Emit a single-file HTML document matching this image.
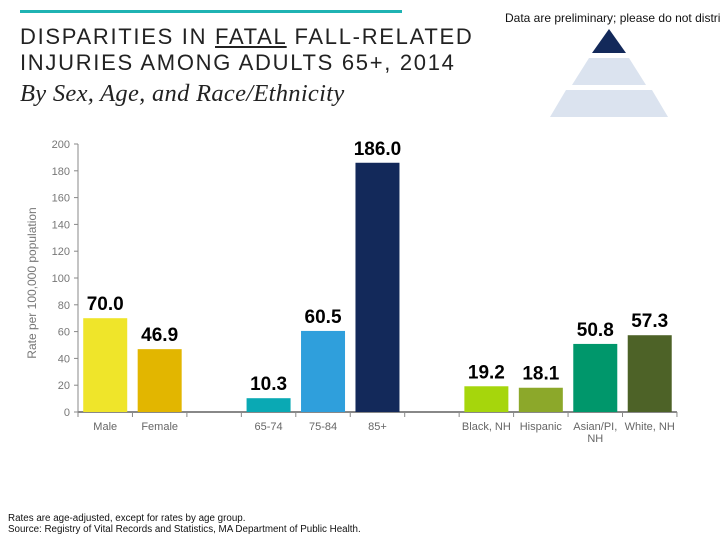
<!DOCTYPE html>
<html><head><meta charset="utf-8"><style>
body{margin:0;width:720px;height:540px;background:#fff;overflow:hidden;font-family:"Liberation Sans",sans-serif;position:relative}
.t{position:absolute}
</style></head><body>
<div class="t" style="left:20px;top:10px;width:382px;height:3px;background:#1fb3b3"></div>
<div class="t" style="left:20px;top:24px;font-size:22px;line-height:26px;color:#222;letter-spacing:1.7px;white-space:nowrap">DISPARITIES IN <u>FATAL</u> FALL-RELATED<br>INJURIES AMONG ADULTS 65+, 2014</div>
<div class="t" style="left:20px;top:80px;font-family:'Liberation Serif',serif;font-style:italic;font-size:24.5px;color:#222;white-space:nowrap;letter-spacing:0.3px">By Sex, Age, and Race/Ethnicity</div>
<div class="t" style="left:505px;top:11px;font-size:12px;color:#111;white-space:nowrap">Data are preliminary; please do not distribute</div>
<svg class="t" style="left:0;top:0" width="720" height="540">
<polygon points="609,29 592,53 626,53" fill="#13295a"/>
<polygon points="589,58 629,58 646,85 572,85" fill="#dbe3ef"/>
<polygon points="566,90 652,90 668,117 550,117" fill="#dbe3ef"/>
<g id="g"></g>
<text transform="translate(36,283) rotate(-90)" text-anchor="middle" font-size="12" fill="#777">Rate per 100,000 population</text>
</svg>
<div class="t" style="left:8px;top:513px;font-size:9.8px;line-height:11px;color:#111;white-space:nowrap">Rates are age-adjusted, except for rates by age group.<br>Source: Registry of Vital Records and Statistics, MA Department of Public Health.</div>
<script>
const categories=["Male","Female","","65-74","75-84","85+","","Black, NH","Hispanic","Asian/PI, NH","White, NH"];
const values=[70.0,46.9,null,10.3,60.5,186.0,null,19.2,18.1,50.8,57.3];
const labels=["70.0","46.9","","10.3","60.5","186.0","","19.2","18.1","50.8","57.3"];
const colors=["#efe52a","#e2b600","","#0aa9b4","#2f9fdc","#13295a","","#a6d60c","#8ca82a","#00976b","#4d6227"];
const yTicks=[0,20,40,60,80,100,120,140,160,180,200];
const ns="http://www.w3.org/2000/svg",g=document.getElementById("g");
const x0=78,slot=54.45,y=v=>412-v*1.34;
function mk(t,a,txt){const e=document.createElementNS(ns,t);for(const k in a)e.setAttribute(k,a[k]);if(txt!=null)e.textContent=txt;g.appendChild(e);return e;}
let e=mk("line",{x1:x0,y1:144,x2:x0,y2:412,stroke:"#888"});


e=mk("line",{x1:x0,y1:412,x2:x0+slot*categories.length,y2:412,stroke:"#888","stroke-width":2});


yTicks.forEach(v=>{
 mk("line",{x1:x0-4,y1:y(v),x2:x0,y2:y(v),stroke:"#888"});
 const t=mk("text",{x:x0-8,y:y(v)+4,"text-anchor":"end","font-size":11,fill:"#777"},v);
 
 
});
for(let i=0;i<=categories.length;i++)mk("line",{x1:x0+i*slot,y1:412,x2:x0+i*slot,y2:417,stroke:"#888"});
categories.forEach((c,i)=>{
 const cx=x0+slot*(i+0.5);
 if(values[i]!=null){
  const r=mk("rect",{x:cx-22,y:y(values[i]),width:44,height:412-y(values[i]),fill:colors[i]});
  
  
  const l=mk("text",{x:cx,y:y(values[i])-8,"text-anchor":"middle","font-size":19,"font-weight":"bold",fill:"#000"},labels[i]);
  
  
 }
 const parts=c==="Asian/PI, NH"?["Asian/PI,","NH"]:[c];
 parts.forEach((p,j)=>{
  const t=mk("text",{x:cx,y:430+j*12,"text-anchor":"middle","font-size":11,fill:"#666"},p);
  
  
 });
});
</script>
</body></html>
